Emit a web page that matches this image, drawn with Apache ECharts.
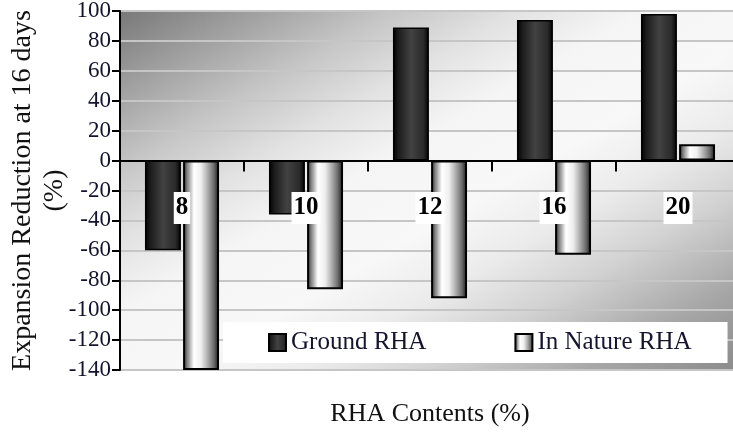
<!DOCTYPE html>
<html>
<head>
<meta charset="utf-8">
<script src="https://cdn.jsdelivr.net/npm/echarts@6/dist/echarts.min.js"></script>
<style>
  html, body { margin: 0; padding: 0; background: #fff; }
  #chart { width: 733px; height: 435px; }
</style>
</head>
<body>
<div id="chart"></div>
<script>
// RHA content levels (%) shown on the category axis
const categories = ['8', '10', '12', '16', '20'];
// Expansion reduction at 16 days (%)
const groundRHA = [-60, -36, 89, 94, 98];
const natureRHA = [-140, -86, -92, -63, 11];
// Value axis range
const yMin = -140;
const yMax = 100;
const yStep = 20;

const chart = echarts.init(document.getElementById('chart'));

// Plot area layout
const W = 733, H = 435;
const gLeft = 120, gTop = 11, gRight = -7, gBottom = 65;
const gW = W - gLeft - gRight;
const gH = H - gTop - gBottom;

// Diagonal shading: isolines run parallel to the plot's anti-diagonal
const k = 2 * gW * gH / (gW * gW + gH * gH);
const plotShade = new echarts.graphic.LinearGradient(
  gLeft, gTop, gLeft + gH * k, gTop + gW * k,
  [
    { offset: 0, color: '#787878' },
    { offset: 0.1, color: '#9c9c9c' },
    { offset: 0.22, color: '#c6c6c6' },
    { offset: 0.32, color: '#e2e2e2' },
    { offset: 0.42, color: '#f5f5f5' },
    { offset: 0.55, color: '#f8f8f8' },
    { offset: 0.65, color: '#ebebeb' },
    { offset: 0.75, color: '#d2d2d2' },
    { offset: 0.88, color: '#a6a6a6' },
    { offset: 1, color: '#8a8a8a' }
  ], true);

const darkBar = new echarts.graphic.LinearGradient(0, 0, 1, 0, [
  { offset: 0, color: '#000000' },
  { offset: 0.15, color: '#1c1c1c' },
  { offset: 0.5, color: '#424242' },
  { offset: 0.85, color: '#2a2a2a' },
  { offset: 1, color: '#000000' }
]);

const lightBar = new echarts.graphic.LinearGradient(0, 0, 1, 0, [
  { offset: 0, color: '#222222' },
  { offset: 0.1, color: '#777777' },
  { offset: 0.3, color: '#ffffff' },
  { offset: 0.5, color: '#eeeeee' },
  { offset: 0.7, color: '#a8a8a8' },
  { offset: 0.85, color: '#6e6e6e' },
  { offset: 0.95, color: '#333333' },
  { offset: 1, color: '#000000' }
]);

const serif = '"Liberation Serif", "DejaVu Serif", serif';
const ink = '#14142e';

chart.setOption({
  animation: false,
  backgroundColor: '#ffffff',
  grid: {
    left: gLeft, top: gTop, right: gRight, bottom: gBottom,
    containLabel: false,
    outerBoundsMode: 'none',
    show: true,
    backgroundColor: plotShade,
    borderColor: '#7a7a7a',
    borderWidth: 2
  },
  legend: {
    data: ['Ground RHA', 'In Nature RHA'],
    left: 223,
    top: 322,
    backgroundColor: '#ffffff',
    padding: [8, 36, 8, 45],
    itemGap: 88,
    itemWidth: 17,
    itemHeight: 17,
    icon: 'rect',
    textStyle: { fontFamily: serif, fontSize: 25, color: ink }
  },
  xAxis: {
    type: 'category',
    data: categories,
    z: 5,
    name: 'RHA Contents (%)',
    nameLocation: 'middle',
    nameGap: 31,
    nameTextStyle: { fontFamily: serif, fontSize: 26, color: '#111' },
    axisLine: { onZero: true, lineStyle: { color: '#000', width: 2 } },
    axisTick: { show: true, length: 11, interval: 0, lineStyle: { color: '#000', width: 2 } },
    axisLabel: {
      interval: 0,
      // labels sit inside the plot, just below the zero line
      margin: -178,
      fontFamily: serif,
      fontWeight: 'bold',
      fontSize: 25,
      color: '#000',
      backgroundColor: '#ffffff',
      padding: [3, 2, 4, 2]
    },
    splitLine: { show: false }
  },
  yAxis: {
    type: 'value',
    min: yMin,
    max: yMax,
    interval: yStep,
    name: 'Expansion Reduction at 16 days\n(%)',
    nameLocation: 'middle',
    nameRotate: 90,
    nameGap: 49,
    nameMoveOverlap: false,
    nameTextStyle: { fontFamily: serif, fontSize: 28, color: '#111', lineHeight: 32 },
    axisLine: { show: true, lineStyle: { color: '#000', width: 2 } },
    axisTick: { show: true, length: 8, lineStyle: { color: '#000', width: 2 } },
    axisLabel: { margin: 9, fontFamily: serif, fontSize: 23, color: ink },
    splitLine: { show: true, lineStyle: { color: '#c6c6c6', width: 2 } }
  },
  series: [
    {
      name: 'Ground RHA',
      type: 'bar',
      data: groundRHA,
      barWidth: '29%',
      barGap: '6%',
      itemStyle: { color: darkBar, borderColor: '#000', borderWidth: 1.5 }
    },
    {
      name: 'In Nature RHA',
      type: 'bar',
      data: natureRHA,
      barWidth: '29%',
      itemStyle: { color: lightBar, borderColor: '#000', borderWidth: 2 }
    }
  ]
});
</script>
</body>
</html>
